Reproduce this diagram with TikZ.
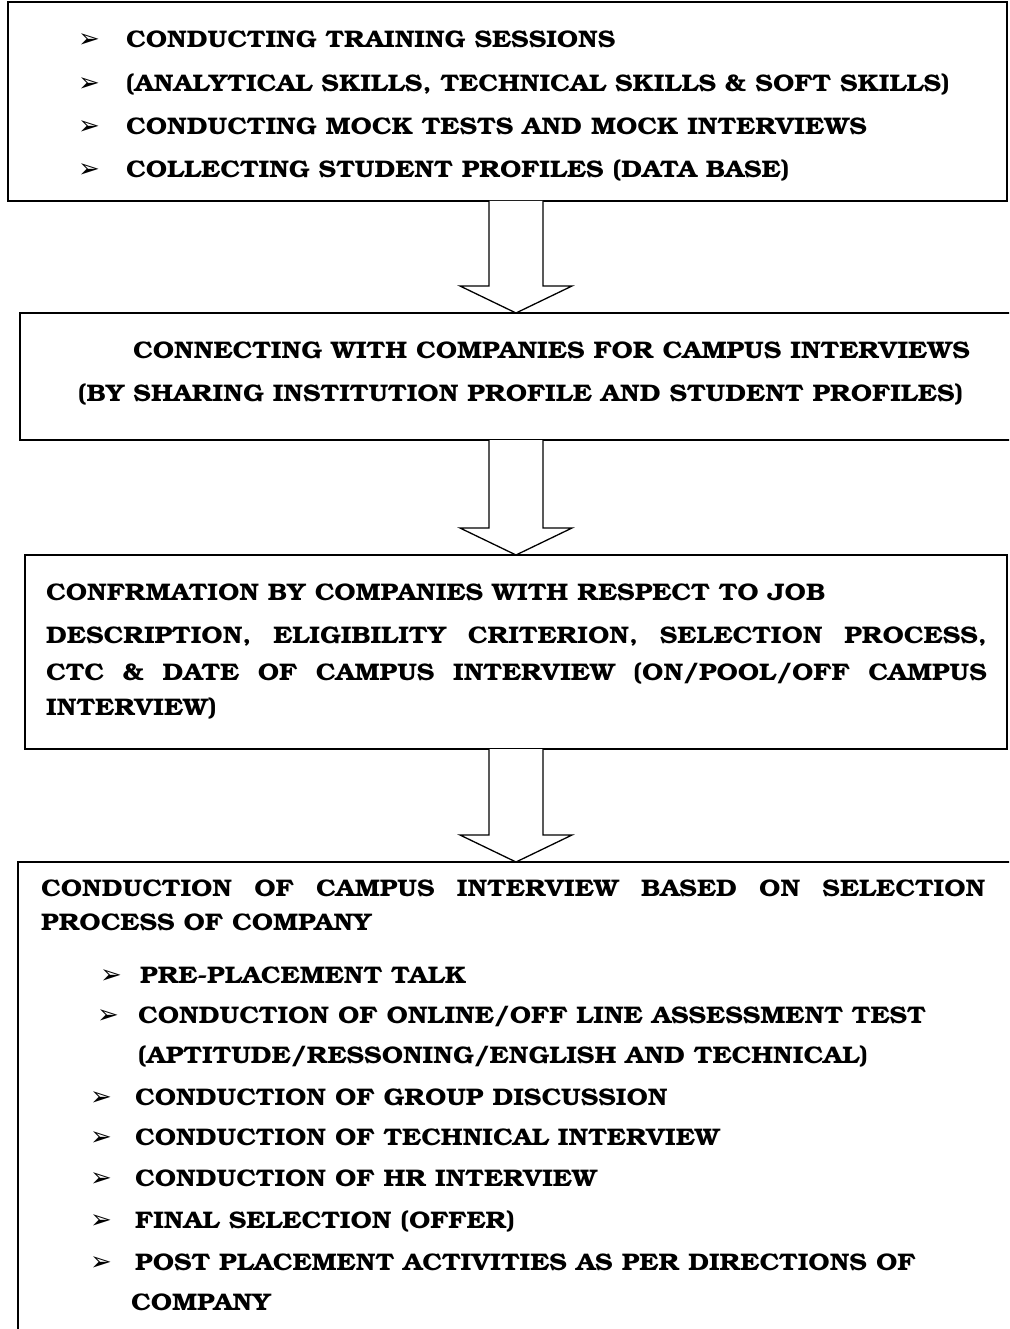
\documentclass[tikz,border=0pt]{standalone}
\usepackage{fontspec}
\usepackage[T1]{fontenc}
\usepackage{bookman}
\newfontfamily\arrowglyph{DejaVu Sans}
\usetikzlibrary{calc}

\newcommand\bookText{\fontsize{24}{28}\selectfont\bfseries}
\newcommand\wide[1]{\scalebox{1.108}[1]{#1}}
\newcommand\justLine[2]{\wide{\makebox[#1][s]{#2}}}

\begin{document}
\begin{tikzpicture}[
  x=1pt, y=-1pt,
  itemText/.style={anchor=base west, inner sep=0pt, font=\bookText},
  itemMark/.style={anchor=base west, inner sep=0pt, font=\arrowglyph\fontsize{26}{26}\selectfont}
]
	\useasboundingbox (0,0) rectangle (1009,1329);
	\clip (0,0) rectangle (1009,1329);
	\fill[white] (0,0) rectangle (1009,1329);

	\tikzstyle{stepBox} = [rectangle, draw=black, line width=1.6pt, anchor=north west, inner sep=0pt, outer sep=0pt]
	\tikzstyle{blockArrow} = [draw=black, line width=1.3pt, fill=white, line join=miter]

	\coordinate (arrowAxis) at (516,0);

	% the four steps
	\node (trainingBox) [stepBox, minimum width=999pt, minimum height=199pt] at (8,2) {};
	\node (contactBox) [stepBox, minimum width=1010pt, minimum height=127pt] at (20,313) {};
	\node (confirmBox) [stepBox, minimum width=982pt, minimum height=194pt] at (25,555) {};
	\node (interviewBox) [stepBox, minimum width=1010pt, minimum height=500pt] at (18,862) {};

	% step 1
	\node (trainingMark1) [itemMark] at (78,48) {➢};
	\node (trainingItem1) [itemText] at (126,48) {\wide{CONDUCTING TRAINING SESSIONS}};
	\node (trainingMark2) [itemMark] at (78,92) {➢};
	\node (trainingItem2) [itemText] at (126,92) {\wide{(ANALYTICAL SKILLS, TECHNICAL SKILLS \& SOFT SKILLS)}};
	\node (trainingMark3) [itemMark] at (78,135) {➢};
	\node (trainingItem3) [itemText] at (126,135) {\wide{CONDUCTING MOCK TESTS AND MOCK INTERVIEWS}};
	\node (trainingMark4) [itemMark] at (78,178) {➢};
	\node (trainingItem4) [itemText] at (126,178) {\wide{COLLECTING STUDENT PROFILES (DATA BASE)}};

	% step 2
	\node (contactLine1) [itemText] at (133,358) {\wide{CONNECTING WITH COMPANIES FOR CAMPUS INTERVIEWS}};
	\node (contactLine2) [itemText] at (78,401) {\wide{(BY SHARING INSTITUTION PROFILE AND STUDENT PROFILES)}};

	% step 3
	\node (confirmLine1) [itemText] at (46,600) {\wide{CONFRMATION BY COMPANIES WITH RESPECT TO JOB}};
	\node (confirmLine2) [itemText] at (46,643) {\justLine{849pt}{DESCRIPTION, ELIGIBILITY CRITERION, SELECTION PROCESS,}};
	\node (confirmLine3) [itemText] at (46,680) {\justLine{849pt}{CTC \& DATE OF CAMPUS INTERVIEW (ON/POOL/OFF CAMPUS}};
	\node (confirmLine4) [itemText] at (46,715) {\wide{INTERVIEW)}};

	% step 4
	\node (interviewLine1) [itemText] at (41,896) {\justLine{852pt}{CONDUCTION OF CAMPUS INTERVIEW BASED ON SELECTION}};
	\node (interviewLine2) [itemText] at (41,930) {\wide{PROCESS OF COMPANY}};
	\node (interviewMark1) [itemMark] at (100,983) {➢};
	\node (interviewItem1) [itemText] at (140,983) {\wide{PRE-PLACEMENT TALK}};
	\node (interviewMark2) [itemMark] at (97,1023) {➢};
	\node (interviewItem2) [itemText] at (138,1023) {\wide{CONDUCTION OF ONLINE/OFF LINE ASSESSMENT TEST}};
	\node (interviewItem2b) [itemText] at (138,1063) {\wide{(APTITUDE/RESSONING/ENGLISH AND TECHNICAL)}};
	\node (interviewMark3) [itemMark] at (90,1105) {➢};
	\node (interviewItem3) [itemText] at (135,1105) {\wide{CONDUCTION OF GROUP DISCUSSION}};
	\node (interviewMark4) [itemMark] at (90,1145) {➢};
	\node (interviewItem4) [itemText] at (135,1145) {\wide{CONDUCTION OF TECHNICAL INTERVIEW}};
	\node (interviewMark5) [itemMark] at (90,1186) {➢};
	\node (interviewItem5) [itemText] at (135,1186) {\wide{CONDUCTION OF HR INTERVIEW}};
	\node (interviewMark6) [itemMark] at (90,1228) {➢};
	\node (interviewItem6) [itemText] at (135,1228) {\wide{FINAL SELECTION (OFFER)}};
	\node (interviewMark7) [itemMark] at (90,1270) {➢};
	\node (interviewItem7) [itemText] at (135,1270) {\wide{POST PLACEMENT ACTIVITIES AS PER DIRECTIONS OF}};
	\node (interviewItem7b) [itemText] at (131,1310) {\wide{COMPANY}};

	% block arrows between the steps
	\draw[blockArrow] let \p1=(trainingBox.south -| arrowAxis), \p2=(contactBox.north -| arrowAxis) in
		(\x1-27pt,\y1) -- (\x1-27pt,\y2+27pt) -- (\x1-56pt,\y2+27pt) -- (\x2,\y2) -- (\x1+56pt,\y2+27pt) -- (\x1+27pt,\y2+27pt) -- (\x1+27pt,\y1);
	\draw[blockArrow] let \p1=(contactBox.south -| arrowAxis), \p2=(confirmBox.north -| arrowAxis) in
		(\x1-27pt,\y1) -- (\x1-27pt,\y2+27pt) -- (\x1-56pt,\y2+27pt) -- (\x2,\y2) -- (\x1+56pt,\y2+27pt) -- (\x1+27pt,\y2+27pt) -- (\x1+27pt,\y1);
	\draw[blockArrow] let \p1=(confirmBox.south -| arrowAxis), \p2=(interviewBox.north -| arrowAxis) in
		(\x1-27pt,\y1) -- (\x1-27pt,\y2+27pt) -- (\x1-56pt,\y2+27pt) -- (\x2,\y2) -- (\x1+56pt,\y2+27pt) -- (\x1+27pt,\y2+27pt) -- (\x1+27pt,\y1);
\end{tikzpicture}
\end{document}
